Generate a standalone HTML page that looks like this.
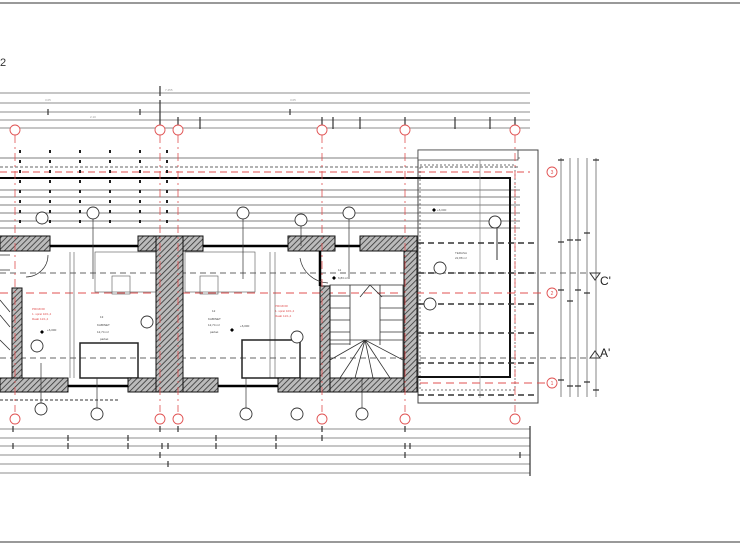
<!DOCTYPE html>
<html><head><meta charset="utf-8"><style>
html,body{margin:0;padding:0;background:#fff;width:740px;height:550px;overflow:hidden}
svg{display:block;font-family:"Liberation Sans",sans-serif}
</style></head><body>
<svg width="740" height="550" viewBox="0 0 740 550" xmlns="http://www.w3.org/2000/svg">
<defs>
<pattern id="h" width="4" height="4" patternUnits="userSpaceOnUse" patternTransform="rotate(45)">
<rect width="4" height="4" fill="#bbb"/><line x1="0" y1="0" x2="0" y2="4" stroke="#333" stroke-width="1.6"/></pattern>
</defs>
<line x1="0" y1="3" x2="740" y2="3" stroke="#999" stroke-width="2"/>
<line x1="0" y1="542" x2="740" y2="542" stroke="#999" stroke-width="2"/>
<text x="0" y="66" font-size="11" fill="#333">2</text>

<g stroke="#666" stroke-width="0.8">
<line x1="0" y1="93" x2="530" y2="93"/><line x1="0" y1="103" x2="530" y2="103"/>
<line x1="0" y1="112" x2="530" y2="112"/><line x1="0" y1="120" x2="530" y2="120"/>
<line x1="0" y1="128" x2="530" y2="128"/>
</g>
<g stroke="#333" stroke-width="1.2">
<path d="M48 109v6M140 109v6M160 100v30M178 117v12M200 117v12M290 109v6M322 117v12M333 117v12M360 117v12M405 117v12M455 117v12M490 117v12M515 117v12M160 86v10"/>
</g>
<g font-size="3" fill="#999"><text x="165" y="91">7.455</text><text x="45" y="101">3.05</text><text x="290" y="101">3.05</text><text x="90" y="118">2.10</text></g>

<g stroke="#555" stroke-width="0.7">
<line x1="0" y1="158" x2="520" y2="158"/><line x1="0" y1="190" x2="520" y2="190"/>
<line x1="0" y1="197" x2="520" y2="197"/><line x1="0" y1="205" x2="520" y2="205"/>
<line x1="0" y1="213" x2="520" y2="213"/><line x1="0" y1="221" x2="520" y2="221"/>
<line x1="0" y1="228" x2="520" y2="228"/>
</g>
<line x1="0" y1="167" x2="520" y2="167" stroke="#333" stroke-width="0.8" stroke-dasharray="3 2"/>
<line x1="0" y1="172" x2="530" y2="172" stroke="#e05050" stroke-width="1" stroke-dasharray="7 4"/>
<line x1="0" y1="178" x2="418" y2="178" stroke="#000" stroke-width="2"/>
<g stroke="#222" stroke-width="2" stroke-dasharray="3 7">
<path d="M20 150v80M50 150v80M80 150v80M110 150v80M140 150v80M167 150v80"/>
</g>

<rect x="418" y="150" width="120" height="253" fill="none" stroke="#444" stroke-width="1"/>
<rect x="418" y="150" width="100" height="10" fill="#fff" stroke="#444" stroke-width="0.8"/>
<rect x="420" y="165" width="95" height="225" fill="none" stroke="#444" stroke-width="0.7" stroke-dasharray="2 2"/>
<path d="M300 178H510V377H418" fill="none" stroke="#111" stroke-width="2"/>
<line x1="480" y1="160" x2="480" y2="398" stroke="#777" stroke-width="0.6"/>
<g stroke="#333" stroke-width="1.6" stroke-dasharray="6 4">
<line x1="418" y1="243" x2="535" y2="243"/><line x1="418" y1="273" x2="535" y2="273"/>
<line x1="418" y1="304" x2="535" y2="304"/><line x1="418" y1="333" x2="535" y2="333"/>
<line x1="418" y1="363" x2="535" y2="363"/><line x1="418" y1="395" x2="535" y2="395"/>
</g>
<line x1="0" y1="273" x2="600" y2="273" stroke="#333" stroke-width="0.8" stroke-dasharray="6 4"/>
<line x1="0" y1="358" x2="600" y2="358" stroke="#333" stroke-width="0.8" stroke-dasharray="6 4"/>
<line x1="0" y1="293" x2="545" y2="293" stroke="#e05050" stroke-width="1" stroke-dasharray="8 5"/>
<line x1="420" y1="383" x2="545" y2="383" stroke="#e05050" stroke-width="1" stroke-dasharray="8 5"/>
<text x="455" y="254" font-size="3" fill="#555">TERASA</text><text x="455" y="259" font-size="3" fill="#555">22,88 m²</text>
<text x="437" y="211" font-size="3" fill="#555">+6,000</text><path d="M434 208l2 2-2 2-2-2z" fill="#000"/>
<circle cx="495" cy="222" r="6" fill="#fff" stroke="#333"/><line x1="497" y1="228" x2="497" y2="260" stroke="#333"/>

<g stroke="#555" stroke-width="0.6" fill="none">
<line x1="70" y1="252" x2="70" y2="378"/><line x1="74" y1="252" x2="74" y2="378"/>
<line x1="270" y1="252" x2="270" y2="378"/><line x1="275" y1="252" x2="275" y2="378"/>
<rect x="95" y="252" width="62" height="40"/><rect x="112" y="276" width="18" height="18"/>
<rect x="185" y="252" width="70" height="40"/><rect x="200" y="276" width="18" height="18"/>
</g>
<rect x="80" y="343" width="58" height="35" fill="none" stroke="#222" stroke-width="1.5"/>
<rect x="242" y="340" width="58" height="38" fill="none" stroke="#222" stroke-width="1.5"/>
<g font-size="3" fill="#444"><text x="100" y="318">13</text><text x="97" y="326">KABINET</text><text x="97" y="333">12,74 m²</text><text x="100" y="340">parket</text>
<text x="212" y="312">12</text><text x="208" y="320">KABINET</text><text x="208" y="326">12,74 m²</text><text x="210" y="333">parket</text>
<text x="47" y="331">+6,000</text><text x="240" y="327">+6,000</text><text x="338" y="271">11</text><text x="338" y="279">6,83 m²</text></g>
<g font-size="3" fill="#e05050"><text x="32" y="310">PROZOR</text><text x="32" y="315">1. sprat 10/1,4</text><text x="32" y="320">Raab 11/1,4</text>
<text x="275" y="307">PROZOR</text><text x="275" y="312">1. sprat 10/1,4</text><text x="275" y="317">Raab 11/1,4</text></g>
<path d="M42 330l2 2-2 2-2-2zM232 328l2 2-2 2-2-2zM334 276l2 2-2 2-2-2z" fill="#000"/>

<g stroke="#333" stroke-width="0.8" fill="none">
<rect x="330" y="285" width="73" height="93"/>
<path d="M330 296h20M330 308h20M330 320h20M330 332h20M330 344h20M380 296h23M380 308h23M380 320h23M380 332h23M350 285v60M380 285v60M365 340l-35 20M365 340l-25 38M365 340l-10 38M365 340l8 38M365 340l25 38M365 340l38 20M365 340l38 0M365 340l-35 0M370 285l-10 12M370 285l12 12"/>
</g>
<path d="M0 300l10 12M0 315l10 12M0 340l10 10M0 255h10M0 270h10" stroke="#333" stroke-width="0.8"/>

<g fill="url(#h)" stroke="#111" stroke-width="1">
<rect x="0" y="236" width="50" height="15"/>
<rect x="138" y="236" width="20" height="15"/>
<rect x="156" y="236" width="27" height="156"/>
<rect x="183" y="236" width="20" height="15"/>
<rect x="288" y="236" width="47" height="15"/>
<rect x="360" y="236" width="57" height="15"/>
<rect x="12" y="288" width="10" height="104"/>
<rect x="320" y="286" width="10" height="106"/>
<rect x="404" y="251" width="13" height="141"/>
<rect x="0" y="378" width="68" height="14"/>
<rect x="128" y="378" width="28" height="14"/>
<rect x="183" y="378" width="35" height="14"/>
<rect x="278" y="378" width="42" height="14"/>
<rect x="330" y="378" width="74" height="14"/>
</g>
<g stroke="#000" stroke-width="2.5"><line x1="50" y1="246" x2="138" y2="246"/><line x1="203" y1="246" x2="288" y2="246"/><line x1="335" y1="246" x2="360" y2="246"/>
<line x1="68" y1="386" x2="128" y2="386"/><line x1="218" y1="386" x2="278" y2="386"/><line x1="320" y1="251" x2="320" y2="286"/></g>
<line x1="0" y1="400" x2="120" y2="400" stroke="#333" stroke-dasharray="3 2"/>
<path d="M48 255a22 22 0 0 1-22 22M300 258a30 30 0 0 0 28 25" fill="none" stroke="#333" stroke-width="0.7"/>

<g stroke="#e05050" stroke-width="0.8" stroke-dasharray="8 4 2 4">
<line x1="15" y1="135" x2="15" y2="412"/><line x1="160" y1="135" x2="160" y2="412"/>
<line x1="178" y1="135" x2="178" y2="412"/><line x1="322" y1="135" x2="322" y2="412"/>
<line x1="405" y1="135" x2="405" y2="412"/><line x1="515" y1="135" x2="515" y2="412"/>
</g>
<g fill="#fff" stroke="#e05050" stroke-width="0.9">
<circle cx="15" cy="130" r="5"/><circle cx="160" cy="130" r="5"/><circle cx="178" cy="130" r="5"/><circle cx="322" cy="130" r="5"/><circle cx="405" cy="130" r="5"/><circle cx="515" cy="130" r="5"/>
<circle cx="15" cy="419" r="5"/><circle cx="160" cy="419" r="5"/><circle cx="178" cy="419" r="5"/><circle cx="322" cy="419" r="5"/><circle cx="405" cy="419" r="5"/><circle cx="515" cy="419" r="5"/>
<circle cx="552" cy="172" r="5"/><circle cx="552" cy="293" r="5"/><circle cx="552" cy="383" r="5"/>
</g>
<g font-size="5" fill="#e05050" text-anchor="middle"><text x="552" y="174">3</text><text x="552" y="295">2</text><text x="552" y="385">1</text></g>

<g fill="#fff" stroke="#333" stroke-width="0.9">
<circle cx="42" cy="218" r="6"/><circle cx="93" cy="213" r="6"/><circle cx="243" cy="213" r="6"/><circle cx="301" cy="220" r="6"/><circle cx="349" cy="213" r="6"/>
<circle cx="147" cy="322" r="6"/><circle cx="37" cy="346" r="6"/><circle cx="297" cy="337" r="6"/><circle cx="440" cy="268" r="6"/><circle cx="430" cy="304" r="6"/>
<circle cx="41" cy="409" r="6"/><circle cx="97" cy="414" r="6"/><circle cx="246" cy="414" r="6"/><circle cx="297" cy="414" r="6"/><circle cx="362" cy="414" r="6"/>
</g>
<g stroke="#333" stroke-width="0.7"><path d="M93 219v60M243 219v60M349 219v60M301 226v20M97 408v-30M246 408v-30M362 408v-30M41 403v-40"/></g>

<g stroke="#666" stroke-width="0.8">
<line x1="0" y1="429" x2="530" y2="429"/><line x1="0" y1="438" x2="530" y2="438"/>
<line x1="0" y1="446" x2="530" y2="446"/><line x1="0" y1="455" x2="530" y2="455"/>
<line x1="0" y1="464" x2="530" y2="464"/><line x1="0" y1="473" x2="530" y2="473"/>
</g>
<g stroke="#333" stroke-width="1.2">
<path d="M13 426v6M160 426v6M178 426v6M322 426v6M405 426v6M68 435v6M128 435v6M216 435v6M276 435v6M322 435v6M13 443v6M68 443v6M128 443v6M216 443v6M276 443v6M162 443v6M168 443v6M405 443v6M410 443v6M160 452v6M405 452v6M520 452v6M168 461v6M530 426v50"/>
</g>

<g stroke="#666" stroke-width="0.8">
<line x1="561" y1="158" x2="561" y2="397"/><line x1="570" y1="158" x2="570" y2="397"/>
<line x1="578" y1="158" x2="578" y2="397"/><line x1="587" y1="158" x2="587" y2="397"/>
<line x1="596" y1="158" x2="596" y2="397"/>
</g>
<g stroke="#333" stroke-width="1.2"><path d="M558 242h6M567 240h6M575 240h6M584 233h6M558 290h6M567 301h6M575 290h6M584 293h6M558 380h6M567 386h6M575 386h6M584 382h6M593 390h6M593 160h6M558 160h6"/></g>
<path d="M590 273h10l-5 7z" fill="none" stroke="#333" stroke-width="1"/>
<path d="M590 358h10l-5-7z" fill="none" stroke="#333" stroke-width="1"/>
<text x="600" y="285" font-size="12" fill="#222">C'</text>
<text x="600" y="357" font-size="12" fill="#222">A'</text>
</svg>
</body></html>
